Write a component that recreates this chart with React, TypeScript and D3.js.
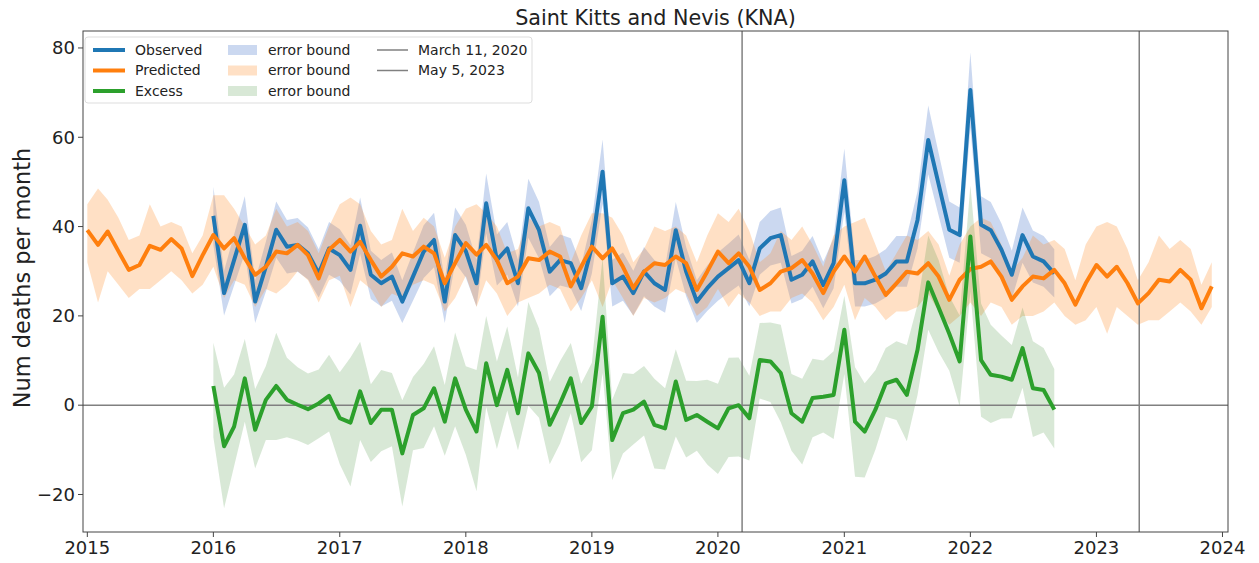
import React from "react";
import * as d3 from "d3";

const TITLE = "Saint Kitts and Nevis (KNA)";
const Y_LABEL = "Num deaths per month";
const X_TICKS = [2015, 2016, 2017, 2018, 2019, 2020, 2021, 2022, 2023, 2024];
const Y_TICKS = [-20, 0, 20, 40, 60, 80];

// Predicted: monthly 2015-01 .. 2023-12
const predicted = [
  39.2, 35.9, 38.9, 34.5, 30.3, 31.4, 35.7, 34.8, 37.2, 35.1, 28.9, 33.6,
  38.1, 35.1, 37.4, 32.9, 29.2, 31.0, 34.4, 34.0, 35.9, 33.6, 28.4, 34.8,
  37.0, 34.4, 36.6, 32.5, 28.8, 31.0, 34.0, 33.3, 35.5, 34.0, 27.3, 31.8,
  36.3, 33.7, 35.9, 32.5, 27.3, 28.8, 32.9, 32.5, 34.4, 33.3, 26.6, 31.0,
  35.5, 32.9, 35.1, 31.0, 26.2, 29.9, 31.8, 31.4, 33.3, 31.8, 25.8, 29.9,
  34.4, 31.8, 34.0, 31.0, 25.8, 27.3, 29.9, 30.7, 32.5, 29.5, 25.1, 29.9,
  33.3, 29.9, 33.3, 28.8, 24.7, 27.3, 29.9, 29.5, 31.8, 28.8, 23.6, 28.1,
  30.5, 31.0, 32.2, 28.8, 23.6, 26.6, 28.8, 28.4, 30.3, 27.3, 22.5, 27.3,
  31.4, 28.8, 31.0, 27.3, 22.8, 25.1, 28.1, 27.7, 30.3, 28.1, 21.7, 26.6,
];
const predictedLow = [
  32, 23, 30, 27, 24, 26, 26, 28, 30, 28, 25, 27,
  31, 24, 28, 27, 22, 26, 25, 27, 30, 28, 23, 28,
  29, 22, 28, 26, 22, 25, 24, 27, 28, 27, 21, 24,
  29, 22, 28, 25, 20, 23, 24, 25, 27, 26, 21, 24,
  28, 22, 28, 24, 20, 24, 23, 24, 26, 25, 20, 22,
  26, 22, 25, 23, 20, 21, 21, 24, 25, 23, 19, 22,
  27, 19, 24, 22, 19, 21, 21, 22, 25, 21, 18, 20,
  23, 20, 23, 22, 18, 20, 20, 21, 23, 20, 18, 19,
  22, 16, 22, 20, 18, 19, 19, 21, 23, 21, 18, 22,
];
const predictedHigh = [
  45, 48.5, 46, 42, 37, 38, 45, 40, 41, 40, 34, 38,
  47, 47, 44, 40, 36, 38, 44, 40, 41, 39, 34, 40,
  45, 46.5, 45, 39, 36, 37, 44, 39, 42, 40, 33, 40,
  44, 45, 43, 40, 34, 35, 42, 40, 41, 40, 32, 38,
  43, 43, 42, 38, 32, 35, 40, 39, 40, 38, 32, 38,
  43, 41, 44, 39, 32, 34, 39, 37, 40, 36, 31, 38,
  40, 41, 42, 36, 30, 34, 38, 37, 39, 36, 29, 36,
  40, 42, 41, 36, 30, 33, 38, 36, 37, 35, 28, 36,
  40, 41, 40, 35, 28, 32, 38, 35, 37, 35, 27, 32,
];

// Observed & excess: monthly 2016-01 .. 2022-09
const observed = [
  42.4, 25.1, 32.5, 40.4, 23.2, 31.0, 39.3, 35.5, 35.9, 34.0, 29.5, 35.1,
  33.6, 30.3, 40.2, 29.2, 27.3, 28.8, 23.2, 28.8, 34.4, 37.0, 23.2, 38.1,
  34.5, 27.3, 45.2, 32.5, 35.1, 27.3, 44.1, 39.2, 29.9, 32.5, 31.8, 26.2,
  35.5, 52.3, 27.3, 28.8, 25.1, 29.9, 27.3, 25.8, 39.2, 29.9, 23.2, 26.2,
  28.8, 30.7, 32.5, 27.3, 35.1, 37.4, 38.1, 28.1, 29.2, 32.2, 26.9, 31.8,
  50.4, 27.3, 27.3, 28.1, 29.5, 32.2, 32.2, 41.5, 59.4, 49.5, 39.3, 38.1,
  70.6, 40.4, 39.2, 34.8, 29.2, 38.1, 33.3, 32.2, 29.5,
];
const observedErr = [
  6.5, 5.0, 5.7, 6.4, 4.8, 5.6, 6.3, 6.0, 6.0, 5.8, 5.4, 5.9,
  5.8, 5.5, 6.3, 5.4, 5.2, 5.4, 4.8, 5.4, 5.9, 6.1, 4.8, 6.2,
  5.9, 5.2, 6.7, 5.7, 5.9, 5.2, 6.6, 6.3, 5.5, 5.7, 5.6, 5.1,
  6.0, 7.2, 5.2, 5.4, 5.0, 5.5, 5.2, 5.1, 6.3, 5.5, 4.8, 5.1,
  5.4, 5.5, 5.7, 5.2, 5.9, 6.1, 6.2, 5.3, 5.4, 5.7, 5.2, 5.6,
  7.1, 5.2, 5.2, 5.3, 5.4, 5.7, 5.7, 6.4, 7.7, 7.0, 6.3, 6.2,
  8.4, 6.4, 6.3, 5.9, 5.4, 6.2, 5.8, 5.7, 5.4,
];
const excess = [
  4.3, -9.2, -4.8, 6.0, -5.5, 1.2, 4.3, 1.2, 0.1, -0.9, 0.4, 2.1,
  -2.9, -3.9, 3.1, -4.0, -1.0, -1.0, -10.8, -2.2, -0.7, 3.8, -3.7, 6.0,
  -1.0, -5.9, 9.4, 0.0, 7.9, -1.8, 11.6, 7.2, -4.4, 0.4, 6.0, -4.0,
  -0.3, 19.8, -7.8, -1.8, -1.0, 0.8, -4.4, -5.2, 5.3, -3.3, -2.2, -3.7,
  -5.2, -0.7, 0.0, -2.9, 10.1, 9.8, 7.2, -1.8, -3.7, 1.6, 1.9, 2.3,
  16.9, -3.7, -5.9, -1.0, 4.9, 5.7, 2.3, 12.4, 27.5, 21.9, 16.0, 9.8,
  37.8, 10.1, 6.8, 6.4, 5.7, 12.8, 3.8, 3.4, -1.0,
];
const excessLow = [
  -7.2, -23.1, -13.7, -3.7, -14.2, -7.8, -7.8, -7.2, -7.9, -8.9, -7.4, -5.9,
  -13.2, -18.2, -7.8, -12.7, -10.3, -9.2, -22.7, -10.1, -9.6, -4.7, -11.3, -4.7,
  -11.1, -19.3, -0.4, -9.8, -1.2, -10.1, -0.1, -2.8, -13.2, -8.6, -1.8, -12.8,
  -10.1, 7.2, -16.8, -10.8, -8.8, -6.8, -14.2, -14.4, -7.0, -11.7, -10.2, -13.3,
  -15.4, -11.6, -11.5, -12.4, 1.5, 0.7, -3.8, -10.2, -13.3, -7.2, -6.1, -7.6,
  7.0, -16.0, -16.2, -10.0, -2.6, -3.3, -8.1, 2.3, 16.9, 11.9, 7.7, -0.3,
  25.4, -2.6, -4.0, -3.0, -2.9, 3.9, -7.1, -6.1, -9.7,
];
const excessHigh = [
  14.0, 3.9, 6.9, 14.8, 3.6, 8.8, 16.2, 10.6, 8.5, 7.1, 8.0, 11.3,
  7.4, 10.7, 14.2, 4.7, 7.9, 7.2, 1.1, 6.3, 9.2, 13.2, 4.5, 16.3,
  8.7, 7.9, 20.0, 9.8, 17.6, 6.2, 23.1, 17.2, 5.2, 9.9, 13.9, 4.8,
  9.5, 33.0, 1.2, 7.2, 7.0, 8.8, 5.9, 3.8, 12.5, 5.5, 5.4, 5.7,
  4.8, 10.6, 10.7, 6.6, 18.4, 18.5, 18.0, 7.0, 5.9, 10.4, 10.0, 12.1,
  24.5, 8.5, 4.9, 7.8, 12.8, 14.3, 13.5, 22.5, 38.0, 32.5, 24.4, 20.1,
  49.2, 22.8, 18.0, 15.6, 13.5, 21.9, 14.3, 12.8, 8.1,
];

const EVENTS = [
  { label: "March 11, 2020", date: new Date(Date.UTC(2020, 2, 11)) },
  { label: "May 5, 2023", date: new Date(Date.UTC(2023, 4, 5)) },
];

const W = 1259;
const H = 563;
const M = { left: 83, right: 1228, top: 31, bottom: 532 };
const BLUE = "#1f77b4";
const ORANGE = "#ff7f0e";
const GREEN = "#2ca02c";
const BLUE_BAND = "rgba(70,115,200,0.28)";
const ORANGE_BAND = "rgba(255,140,40,0.27)";
const GREEN_BAND = "rgba(60,140,50,0.2)";
const FONT = "DejaVu Sans, Liberation Sans, sans-serif";

export default function App() {
  const predDates = predicted.map((_, i) => new Date(Date.UTC(2015, i, 1)));
  const obsDates = observed.map((_, i) => new Date(Date.UTC(2016, i, 1)));

  const x = d3
    .scaleUtc()
    .domain([new Date(Date.UTC(2014, 11, 19, 12)), new Date(Date.UTC(2024, 0, 17))])
    .range([M.left, M.right]);
  const y = d3.scaleLinear().domain([-28.4, 83.8]).range([M.bottom, M.top]);

  const line = d3
    .line<[Date, number]>()
    .x((d) => x(d[0]))
    .y((d) => y(d[1]));
  const area = d3
    .area<[Date, number, number]>()
    .x((d) => x(d[0]))
    .y0((d) => y(d[1]))
    .y1((d) => y(d[2]));

  const predLine = line(predDates.map((d, i) => [d, predicted[i]]));
  const obsLine = line(obsDates.map((d, i) => [d, observed[i]]));
  const exLine = line(obsDates.map((d, i) => [d, excess[i]]));
  const predBand = area(predDates.map((d, i) => [d, predictedLow[i], predictedHigh[i]]));
  const obsBand = area(
    obsDates.map((d, i) => [d, observed[i] - observedErr[i], observed[i] + observedErr[i]])
  );
  const exBand = area(obsDates.map((d, i) => [d, excessLow[i], excessHigh[i]]));

  const legendRows = [
    { label: "Observed", color: BLUE, band: BLUE_BAND },
    { label: "Predicted", color: ORANGE, band: ORANGE_BAND },
    { label: "Excess", color: GREEN, band: GREEN_BAND },
  ];

  return (
    <svg
      width={W}
      height={H}
      style={{ position: "absolute", left: 0, top: 0, background: "#fff" }}
      fontFamily={FONT}
    >
      <defs>
        <clipPath id="plot">
          <rect x={M.left} y={M.top} width={M.right - M.left} height={M.bottom - M.top} />
        </clipPath>
      </defs>
      <g clipPath="url(#plot)">
        <path d={obsBand || ""} fill={BLUE_BAND} />
        <path d={predBand || ""} fill={ORANGE_BAND} />
        <path d={exBand || ""} fill={GREEN_BAND} />
        <line x1={M.left} x2={M.right} y1={y(0)} y2={y(0)} stroke="#808080" strokeWidth={1.5} />
        {EVENTS.map((e) => (
          <line
            key={e.label}
            x1={x(e.date)}
            x2={x(e.date)}
            y1={M.top}
            y2={M.bottom}
            stroke="#808080"
            strokeWidth={1.5}
          />
        ))}
        <path d={obsLine || ""} fill="none" stroke={BLUE} strokeWidth={4} strokeLinejoin="round" />
        <path d={predLine || ""} fill="none" stroke={ORANGE} strokeWidth={4} strokeLinejoin="round" />
        <path d={exLine || ""} fill="none" stroke={GREEN} strokeWidth={4} strokeLinejoin="round" />
      </g>
      <rect
        x={M.left}
        y={M.top}
        width={M.right - M.left}
        height={M.bottom - M.top}
        fill="none"
        stroke="#444"
        strokeWidth={1}
      />
      {X_TICKS.map((t) => {
        const px = x(new Date(Date.UTC(t, 0, 1)));
        return (
          <g key={t}>
            <line x1={px} x2={px} y1={M.bottom} y2={M.bottom + 5} stroke="#444" />
            <text x={px} y={M.bottom + 22} textAnchor="middle" fontSize={18} fill="#222">
              {t}
            </text>
          </g>
        );
      })}
      {Y_TICKS.map((t) => (
        <g key={t}>
          <line x1={M.left - 5} x2={M.left} y1={y(t)} y2={y(t)} stroke="#444" />
          <text
            x={M.left - 8}
            y={y(t)}
            dy="0.35em"
            textAnchor="end"
            fontSize={18}
            fill="#222"
          >
            {t < 0 ? "\u2212" + Math.abs(t) : t}
          </text>
        </g>
      ))}
      <text
        x={(M.left + M.right) / 2}
        y={25}
        textAnchor="middle"
        fontSize={20.7}
        fill="#222"
      >
        {TITLE}
      </text>
      <text
        transform={`translate(30,278) rotate(-90)`}
        textAnchor="middle"
        fontSize={22.4}
        fill="#222"
      >
        {Y_LABEL}
      </text>
      <g>
        <rect x={85} y={37} width={447} height={66} rx={3} fill="rgba(255,255,255,0.85)" stroke="#ddd" />
        {legendRows.map((r, i) => {
          const cy = 50 + i * 20.5;
          return (
            <g key={r.label}>
              <line x1={93} x2={125} y1={cy} y2={cy} stroke={r.color} strokeWidth={4} />
              <text x={135} y={cy} dy="0.35em" fontSize={14} fill="#222">
                {r.label}
              </text>
              <rect x={228} y={cy - 5} width={29} height={10} fill={r.band} />
              <text x={268} y={cy} dy="0.35em" fontSize={14} fill="#222">
                error bound
              </text>
            </g>
          );
        })}
        {EVENTS.map((e, i) => {
          const cy = 50 + i * 20.5;
          return (
            <g key={e.label}>
              <line x1={377} x2={408} y1={cy} y2={cy} stroke="#808080" strokeWidth={1.5} />
              <text x={418} y={cy} dy="0.35em" fontSize={14} fill="#222">
                {e.label}
              </text>
            </g>
          );
        })}
      </g>
    </svg>
  );
}
